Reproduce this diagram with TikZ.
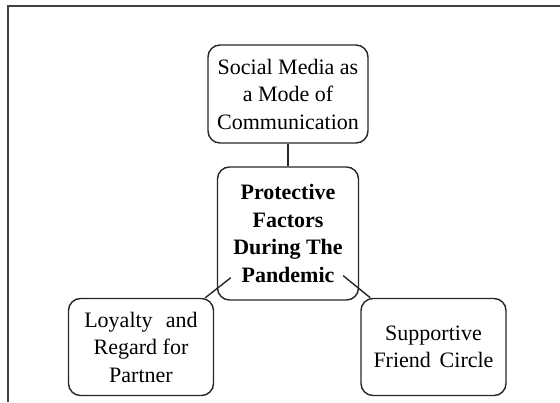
\documentclass[tikz,border=0pt]{standalone}
\usepackage{fontspec}
\setmainfont{Liberation Serif}
\usetikzlibrary{calc}
\begin{document}
\begin{tikzpicture}[x=1pt,y=-1pt,
  box/.style={draw=black!85, line width=1.4pt, rounded corners=12pt,
    align=center, inner sep=0pt, font=\fontsize{22}{27.5}\selectfont},
  link/.style={draw=black!85, line width=1.4pt},
  frame/.style={draw=black!75, line width=1.5pt}]
\useasboundingbox (0,0) rectangle (560,402);
% page frame (top and left edges)
\coordinate (fTL) at (8,6);
\coordinate (fTR) at (560,6);
\coordinate (fBL) at (8,402);
\draw[frame] (fTR) -- (fTL) -- (fBL);

% boxes
\node[box, minimum width=160pt, minimum height=98pt] (media) at (288,94)
  {Social Media as\\a Mode of\\Communication};
\node[box, minimum width=141pt, minimum height=133pt,
  font=\fontsize{22}{27.5}\selectfont\bfseries] (core) at (288,233.5)
  {Protective\\Factors\\During The\\Pandemic};
\node[box, minimum width=145pt, minimum height=97pt] (loyal) at (141,347)
  {Loyalty\hspace{0.6em}and\\Regard for\\Partner};
\node[box, minimum width=145pt, minimum height=97pt] (friend) at (433.5,347)
  {Supportive\\Friend\hspace{0.4em}Circle};

% connectors
\coordinate (coreL) at ($(core.south west)+(14,-23)$);
\coordinate (coreR) at ($(core.south east)+(-16,-25)$);
\draw[link] (media.south) -- (core.north);
\draw[link] (coreL) -- ($(loyal.north east)+(-9,0)$);
\draw[link] (coreR) -- ($(friend.north west)+(10,0)$);
\end{tikzpicture}
\end{document}
